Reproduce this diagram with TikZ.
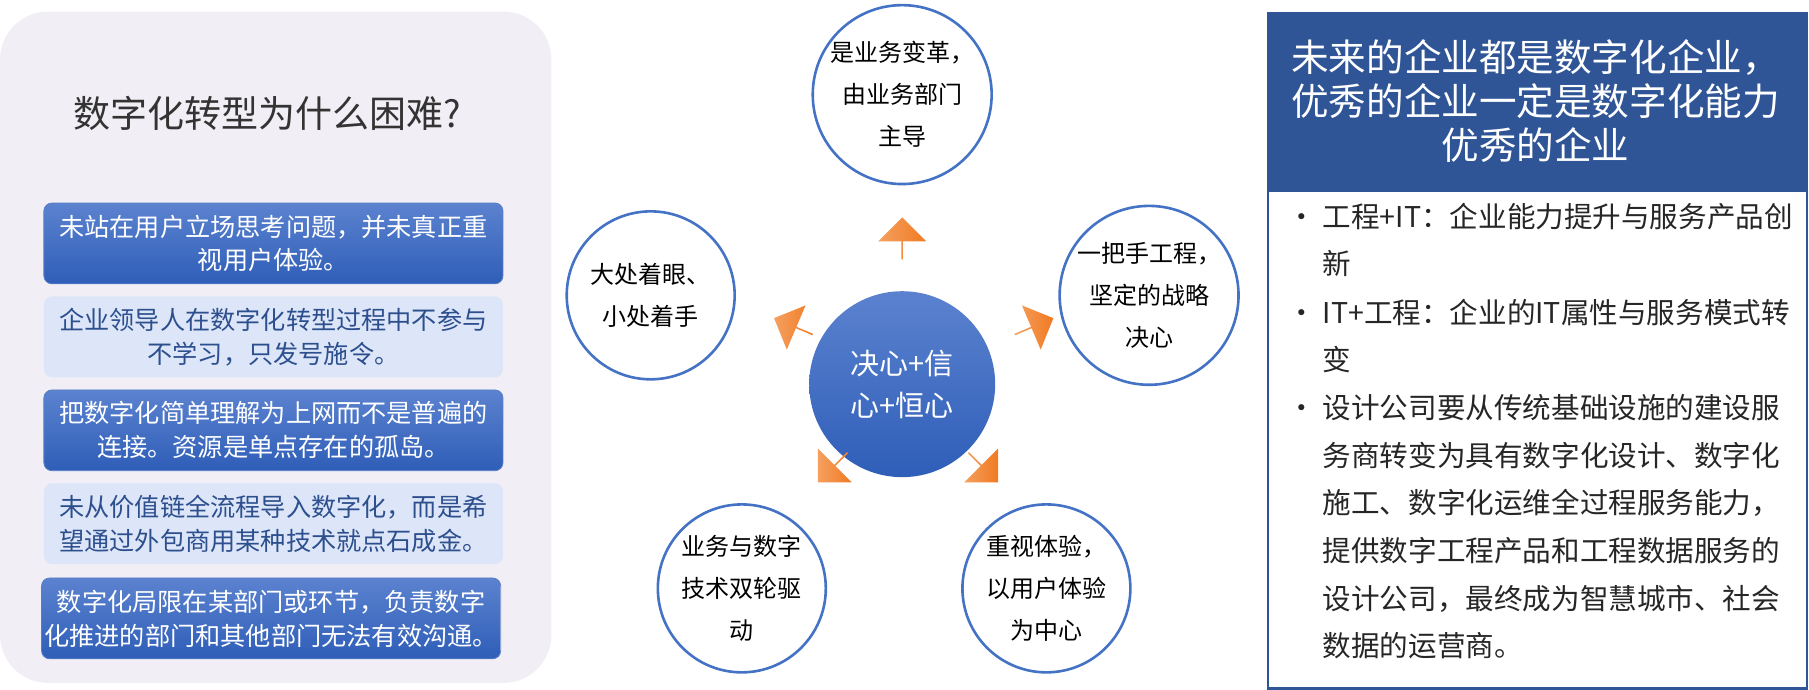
\documentclass[tikz,border=0pt]{standalone}
\usepackage{fontspec}
\setmainfont{Noto Sans CJK SC}
\usetikzlibrary{shapes.arrows}
\definecolor{panel}{HTML}{F1EFF5}
\definecolor{dtop}{HTML}{5B82CF}
\definecolor{dbot}{HTML}{2F5EB8}
\definecolor{lightb}{HTML}{DCE6F8}
\definecolor{ltext}{HTML}{2D4F8E}
\definecolor{ring}{HTML}{4472C4}
\definecolor{hdr}{HTML}{2F5597}
\definecolor{orA}{HTML}{F07A22}
\definecolor{orB}{HTML}{F5A060}
\tikzset{
  darkbox/.style={rounded corners=4pt,top color=dtop,bottom color=dbot,draw=dbot!80,line width=0.4pt,minimum width=229.6pt,minimum height=40.4pt,text=white,font=\fontsize{12.6}{17}\selectfont,align=center,inner sep=0pt},
  lightbox/.style={rounded corners=4pt,fill=lightb,minimum width=229.6pt,minimum height=40.4pt,text=ltext,font=\fontsize{12.6}{17}\selectfont,align=center,inner sep=0pt},
  ringc/.style={circle,draw=ring,line width=1.3pt,fill=white,minimum size=84pt,align=center,font=\fontsize{12}{21}\selectfont,inner sep=0pt},
  oarrow/.style={single arrow,left color=orB,right color=orA,draw=none,minimum width=24pt,single arrow head extend=6pt,single arrow tip angle=90,minimum height=21pt,inner sep=0pt,shape border rotate=0},
  btxt/.style={anchor=base west,font=\fontsize{14.3}{14.3}\selectfont,text=black!85},
}
\begin{document}
\begin{tikzpicture}[x=0.577pt,y=0.577pt]
\useasboundingbox (0,0) rectangle (1568,-598);
% left panel
\node[fill=panel,rounded corners=24pt,minimum width=275.8pt,minimum height=335.8pt,inner sep=0pt] (lp) at (239,-301) {};
\node[font=\fontsize{18.5}{20}\selectfont,text=black!80] (ttl) at (232,-98) {数字化转型为什么困难?};
\node[darkbox] (b1) at (237,-211) {未站在用户立场思考问题，并未真正重\\视用户体验。};
\node[lightbox] (b2) at (237,-292) {企业领导人在数字化转型过程中不参与\\不学习，只发号施令。};
\node[darkbox] (b3) at (237,-373) {把数字化简单理解为上网而不是普遍的\\连接。资源是单点存在的孤岛。};
\node[lightbox] (b4) at (237,-454) {未从价值链全流程导入数字化，而是希\\望通过外包商用某种技术就点石成金。};
\node[darkbox] (b5) at (235,-536) {数字化局限在某部门或环节，负责数字\\化推进的部门和其他部门无法有效沟通。};
% center
\node[circle,top color=dtop,bottom color=dbot,minimum size=93pt,text=white,font=\fontsize{14.5}{21}\selectfont,align=center,inner sep=0pt] (c) at (782,-333) {决心+信\\心+恒心};
\node[ringc] (t) at (782,-82) {是业务变革，\\由业务部门\\主导};
\node[ringc] (ul) at (564,-256) {大处着眼、\\小处着手};
\node[ringc] (ur) at (996,-256) {一把手工程，\\坚定的战略\\决心};
\node[ringc] (ll) at (643,-510) {业务与数字\\技术双轮驱\\动};
\node[ringc] (lr) at (907,-510) {重视体验，\\以用户体验\\为中心};
% arrows
\node[oarrow,rotate=90] (a1) at (782,-207) {};
\node[oarrow,rotate=157] (a2) at (688,-283) {};
\node[oarrow,rotate=23] (a3) at (896,-283) {};
\node[oarrow,rotate=-135] (a4) at (722,-405) {};
\node[oarrow,rotate=-45] (a5) at (852,-405) {};
% right panel
\node[draw=hdr,line width=1.2pt,fill=white,minimum width=269.5pt,minimum height=338pt,inner sep=0pt,anchor=north west] (rp) at (1098,-10) {};
\node[fill=hdr,minimum width=269.5pt,minimum height=90pt,inner sep=0pt,anchor=north west] (rh) at (1098,-10) {};
\node[text=white,align=center,font=\fontsize{18.8}{22}\selectfont] (rht) at (1331,-88) {未来的企业都是数字化企业，\\优秀的企业一定是数字化能力\\优秀的企业};
\foreach \y/\t in {197/{\textbullet\ 工程+IT：企业能力提升与服务产品创},238/{\phantom{\textbullet\ }新},280/{\textbullet\ IT+工程：企业的IT属性与服务模式转},321/{\phantom{\textbullet\ }变},363/{\textbullet\ 设计公司要从传统基础设施的建设服},404/{\phantom{\textbullet\ }务商转变为具有数字化设计、数字化},445/{\phantom{\textbullet\ }施工、数字化运维全过程服务能力，},487/{\phantom{\textbullet\ }提供数字工程产品和工程数据服务的},528/{\phantom{\textbullet\ }设计公司，最终成为智慧城市、社会},569/{\phantom{\textbullet\ }数据的运营商。}}
  \node[btxt] at (1110,-\y) {\t};
\end{tikzpicture}
\end{document}
